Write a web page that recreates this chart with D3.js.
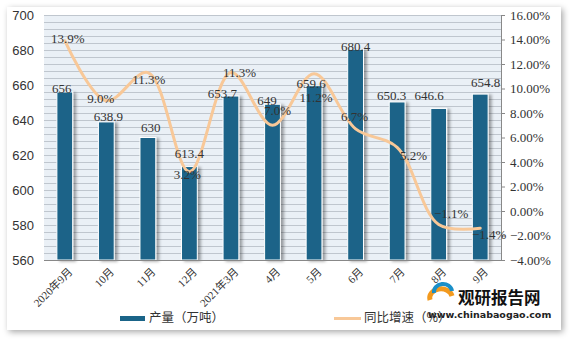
<!DOCTYPE html>
<html><head><meta charset="utf-8">
<script src="https://cdn.jsdelivr.net/npm/d3@7"></script>
<style>html,body{margin:0;padding:0;background:#fff;}svg{display:block;}</style>
</head><body>
<script>
const categories = ["2020年9月","10月","11月","12月","2021年3月","4月","5月","6月","7月","8月","9月"];
const output = [656, 638.9, 630, 613.4, 653.7, 649, 659.6, 680.4, 650.3, 646.6, 654.8];
const growth = [13.9, 9.0, 11.3, 3.2, 11.3, 7.0, 11.2, 6.7, 5.2, -1.1, -1.4];
const leftTicks = [560, 580, 600, 620, 640, 660, 680, 700];
const rightTicks = [-4, -2, 0, 2, 4, 6, 8, 10, 12, 14, 16];
const legendNames = ["产量（万吨）", "同比增速（%）"];

// label nudges (layout only, in px) as placed in the reference
const barLabelNudge = [[-3,-4],[2,-5],[3,-10.5],[0,-13.5],[-8.5,-3],[-5.5,-3.5],[-3,-2.5],[0,-3],[-5.5,-7],[-9.5,-13.5],[5.5,-11.5]];
const lineLabelNudge = [[3,-2],[-5.5,-2],[1,7],[-2,3],[8.5,0],[5,-15],[2,23.5],[-1,-12],[16.5,8],[12.5,-11],[9,6]];

const W = 578, H = 339;
const svg = d3.select("body").append("svg").attr("width", W).attr("height", H);
const defs = svg.append("defs");
const card = defs.append("filter").attr("id","card").attr("x","-5%").attr("y","-5%").attr("width","110%").attr("height","110%");
card.append("feDropShadow").attr("dx",2).attr("dy",2).attr("stdDeviation",3).attr("flood-color","#000").attr("flood-opacity",0.35);
const bsh = defs.append("filter").attr("id","bsh").attr("x","-30%").attr("y","-10%").attr("width","170%").attr("height","130%");
bsh.append("feDropShadow").attr("dx",3).attr("dy",1).attr("stdDeviation",1.5).attr("flood-color","#000").attr("flood-opacity",0.35);

svg.append("rect").attr("x",7).attr("y",7).attr("width",554).attr("height",323).attr("fill","#fff").attr("filter","url(#card)");

const L = 44, R = 501, T = 15, B = 260;
const x = d3.scaleBand().domain(categories).range([L, R]).paddingInner(0.62).paddingOuter(0.31);
const cx = d => x(d) + x.bandwidth()/2;
const y = d3.scaleLinear().domain([560, 700]).range([B, T]);
const y2 = d3.scaleLinear().domain([-4, 16]).range([B, T]);

svg.append("rect").attr("x",L).attr("y",T).attr("width",R-L).attr("height",B-T).attr("fill","#eaf0f6");
svg.append("g").selectAll("line").data(d3.range(560, 701, 4)).join("line")
  .attr("x1",L).attr("x2",R).attr("y1",d=>y(d)+0.5).attr("y2",d=>y(d)+0.5)
  .attr("stroke","#bfc6ce").attr("stroke-width",1);

// bars
svg.append("g").selectAll("rect").data(output).join("rect")
  .attr("x",(d,i)=>x(categories[i])).attr("width",x.bandwidth())
  .attr("y",d=>y(d)).attr("height",d=>B-y(d))
  .attr("fill","#1a6488").attr("stroke","#fff").attr("stroke-width",1)
  .attr("filter","url(#bsh)");

// axes
const la = svg.append("g").attr("transform",`translate(${L},0)`)
  .call(d3.axisLeft(y).tickValues(leftTicks).tickSize(0).tickPadding(10));
la.select(".domain").remove();
la.selectAll("text").attr("font-family","Liberation Sans, Arial, sans-serif").attr("font-size",13).attr("fill","#333");

const ra = svg.append("g").attr("transform",`translate(${R},0)`)
  .call(d3.axisRight(y2).tickValues(rightTicks).tickSize(4).tickPadding(5).tickFormat(d=>(d<0?"−":"")+Math.abs(d).toFixed(2)+"%"));
ra.select(".domain").attr("stroke","#888");
ra.selectAll("line").attr("stroke","#888");
ra.selectAll("text").attr("font-family","Liberation Serif, serif").attr("font-size",13).attr("fill","#333");

svg.append("line").attr("x1",L).attr("x2",R).attr("y1",B+0.5).attr("y2",B+0.5).attr("stroke","#888").attr("stroke-width",1.2);

// x labels
svg.append("g").selectAll("text").data(categories).join("text")
  .attr("transform",d=>`translate(${cx(d)+3},${B+7}) rotate(-45)`)
  .attr("text-anchor","end").attr("dy","0.7em")
  .attr("font-family","Liberation Serif, Noto Sans CJK SC, serif").attr("font-size",11).attr("fill","#333")
  .text(d=>d);

// line
const line = d3.line().x((d,i)=>cx(categories[i])).y(d=>y2(d)).curve(d3.curveCatmullRom.alpha(0.5));
svg.append("path").datum(growth).attr("d",line).attr("fill","none")
  .attr("stroke","#f8c898").attr("stroke-width",3).attr("stroke-linecap","round");

// bar labels
svg.append("g").selectAll("text").data(output).join("text")
  .attr("x",(d,i)=>cx(categories[i])+barLabelNudge[i][0]).attr("y",(d,i)=>y(d)+barLabelNudge[i][1])
  .attr("dy","0.35em")
  .attr("text-anchor","middle").attr("font-family","Liberation Serif, serif").attr("font-size",13).attr("fill","#333")
  .text(d=>d);

// line labels
svg.append("g").selectAll("text").data(growth).join("text")
  .attr("x",(d,i)=>cx(categories[i])+lineLabelNudge[i][0]).attr("y",(d,i)=>y2(d)+lineLabelNudge[i][1]).attr("dy","0.35em")
  .attr("text-anchor","middle").attr("font-family","Liberation Serif, serif").attr("font-size",13).attr("fill","#333")
  .text(d=>(d<0?"−":"")+Math.abs(d).toFixed(1)+"%");

// legend
const lg = svg.append("g");
lg.append("rect").attr("x",120).attr("y",316).attr("width",25).attr("height",5).attr("fill","#1a6488");
lg.append("text").attr("x",149).attr("y",318).attr("dy","0.35em").attr("font-family","Noto Sans CJK SC, sans-serif").attr("font-size",12.5).attr("fill","#333").text(legendNames[0]);
lg.append("line").attr("x1",334).attr("x2",361).attr("y1",318.5).attr("y2",318.5).attr("stroke","#f8c898").attr("stroke-width",3);
lg.append("text").attr("x",364).attr("y",318).attr("dy","0.35em").attr("font-family","Noto Sans CJK SC, sans-serif").attr("font-size",12.5).attr("fill","#333").text(legendNames[1]);

// watermark
const wm = svg.append("g");
wm.append("path").attr("d","M430,300 A11,9 0 0 1 452,296").attr("fill","none").attr("stroke","#f39a1e").attr("stroke-width",5);
wm.append("path").attr("d","M434,293 A9,8 0 0 1 452,291").attr("fill","none").attr("stroke","#1a8fc8").attr("stroke-width",4);
wm.append("text").attr("x",458).attr("y",304).attr("font-family","Noto Sans CJK SC, sans-serif").attr("font-weight","bold").attr("font-size",16.5).attr("fill","#111").text("观研报告网");
wm.append("text").attr("x",428).attr("y",318).attr("font-family","DejaVu Sans, sans-serif").attr("font-weight","bold").attr("font-size",9.5).attr("fill","#222").text("www.chinabaogao.com");
</script>
</body></html>
